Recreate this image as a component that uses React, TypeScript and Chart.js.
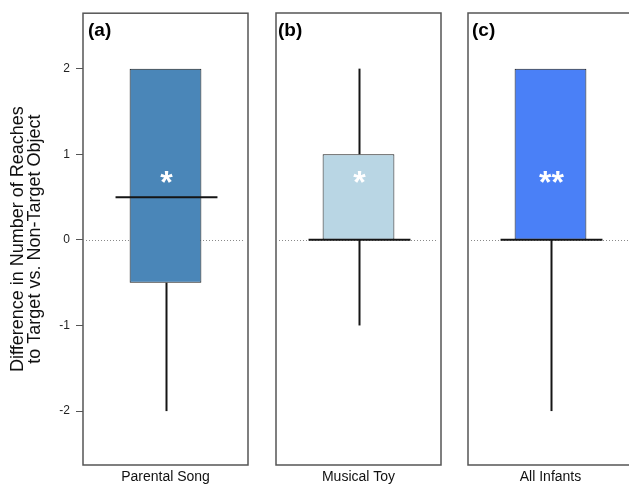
import React, { useEffect, useRef } from "react";
import { Chart, registerables } from "chart.js";

Chart.register(...registerables);

// ---- data ----
const categories = ["Parental Song", "Musical Toy", "All Infants"];
const panelLetters = ["(a)", "(b)", "(c)"];
const q1 = [-0.5, 0, 0];
const q3 = [2, 1, 2];
const medians = [0.5, 0, 0];
const whiskerLow = [-2, -1, -2];
const whiskerHigh = [2, 2, 2];
const significance = ["*", "*", "**"];
const significanceY = [0.7, 0.7, 0.7];
const yTicks = [-2, -1, 0, 1, 2];
const yMin = -2.63;
const yMax = 2.65;
const boxColors = ["#4a86b8", "#b9d6e4", "#4a80f7"];
const yTitle = ["Difference in Number of Reaches", "to Target vs. Non-Target Object"];

const FONT = "'Liberation Sans', Arial, Helvetica, sans-serif";

// ---- layout (style only) ----
const panels = [
  { left: 0, width: 258, padL: 0, padR: 10, showY: true, letterDx: 5 },
  { left: 258, width: 194, padL: 18, padR: 11, showY: false, letterDx: 2 },
  { left: 452, width: 190, padL: 16, padR: 9, showY: false, letterDx: 4 },
];

const boxPlugin = {
  id: "boxExtras",
  beforeDatasetsDraw(chart: any) {
    const { ctx, chartArea: a, scales } = chart;
    const y0 = Math.round(scales.y.getPixelForValue(0)) + 0.5;
    ctx.save();
    ctx.strokeStyle = "#8a8a8a";
    ctx.lineWidth = 1;
    ctx.setLineDash([1, 2]);
    ctx.beginPath();
    ctx.moveTo(a.left + 3, y0);
    ctx.lineTo(a.right - 3, y0);
    ctx.stroke();
    ctx.restore();
  },
  afterDatasetsDraw(chart: any) {
    const i = chart.options.plugins.boxExtras.index;
    const { ctx, scales } = chart;
    const ys = scales.y;
    const el = chart.getDatasetMeta(0).data[0];
    const x = Math.round(el.x) + 0.5;
    const w = el.width;
    ctx.save();
    ctx.strokeStyle = "#151515";
    ctx.lineWidth = 2;
    ctx.lineCap = "butt";
    if (whiskerHigh[i] > q3[i]) {
      ctx.beginPath();
      ctx.moveTo(x, ys.getPixelForValue(q3[i]));
      ctx.lineTo(x, ys.getPixelForValue(whiskerHigh[i]));
      ctx.stroke();
    }
    if (whiskerLow[i] < q1[i]) {
      ctx.beginPath();
      ctx.moveTo(x, ys.getPixelForValue(q1[i]));
      ctx.lineTo(x, ys.getPixelForValue(whiskerLow[i]));
      ctx.stroke();
    }
    const ym = ys.getPixelForValue(medians[i]);
    ctx.beginPath();
    ctx.moveTo(x - w * 0.71, ym);
    ctx.lineTo(x + w * 0.71, ym);
    ctx.stroke();
    // significance stars
    const fs = 32;
    ctx.fillStyle = "#ffffff";
    ctx.font = `bold ${fs}px ${FONT}`;
    ctx.textAlign = "center";
    ctx.textBaseline = "alphabetic";
    ctx.fillText(significance[i], x, ys.getPixelForValue(significanceY[i]) + fs * 0.41);
    ctx.restore();
  },
  afterDraw(chart: any) {
    const i = chart.options.plugins.boxExtras.index;
    const { ctx, chartArea: a } = chart;
    ctx.save();
    ctx.strokeStyle = "#555555";
    ctx.lineWidth = 1.5;
    ctx.strokeRect(a.left, a.top, a.right - a.left, a.bottom - a.top);
    ctx.fillStyle = "#000000";
    ctx.font = `bold 19px ${FONT}`;
    ctx.textAlign = "left";
    ctx.textBaseline = "alphabetic";
    ctx.fillText(panelLetters[i], a.left + panels[i].letterDx, a.top + 23);
    ctx.restore();
  },
};

function Panel({ index }: { index: number }) {
  const ref = useRef<HTMLCanvasElement>(null);
  const p = panels[index];
  useEffect(() => {
    if (!ref.current) return;
    const chart = new Chart(ref.current, {
      type: "bar",
      data: {
        labels: [categories[index]],
        datasets: [
          {
            data: [[q1[index], q3[index]]] as any,
            backgroundColor: boxColors[index],
            borderColor: "#1a1a1a",
            borderWidth: 1,
            borderSkipped: false,
            barPercentage: 0.435,
            categoryPercentage: 1,
          },
        ],
      },
      options: {
        responsive: false,
        animation: false,
        devicePixelRatio: 1,
        events: [],
        layout: { padding: { left: p.padL, right: p.padR, top: 13, bottom: 0 } },
        plugins: {
          legend: { display: false },
          tooltip: { enabled: false },
          boxExtras: { index },
        } as any,
        scales: {
          x: {
            grid: { display: false, drawTicks: false },
            border: { display: false },
            ticks: { color: "#111", font: { family: FONT, size: 14 }, padding: 4 },
            afterFit: (s: any) => {
              s.height = 21;
            },
          },
          y: {
            display: p.showY,
            min: yMin,
            max: yMax,
            grid: { display: true, drawOnChartArea: false, drawTicks: true, tickLength: 7, color: "#555", lineWidth: 1 },
            border: { display: false },
            ticks: { color: "#222", font: { family: FONT, size: 12 }, padding: 6 },
            afterBuildTicks: (s: any) => {
              s.ticks = yTicks.map((v) => ({ value: v }));
            },
            title: {
              display: true,
              text: yTitle,
              color: "#111",
              font: { family: FONT, size: 18, lineHeight: "17px" },
              padding: { top: 10, bottom: 0 },
            },
            afterFit: (s: any) => {
              s.width = p.showY ? 83 : 0;
            },
          },
        },
      },
      plugins: [boxPlugin],
    });
    return () => chart.destroy();
  }, [index]);
  return (
    <div style={{ position: "absolute", left: p.left, top: 0, width: p.width, height: 486 }}>
      <canvas ref={ref} width={p.width} height={486} style={{ display: "block" }} />
    </div>
  );
}

export default function App() {
  return (
    <div
      style={{
        position: "fixed",
        left: 0,
        top: 0,
        width: 629,
        height: 486,
        overflow: "hidden",
        background: "#fff",
      }}
    >
      {categories.map((_, i) => (
        <Panel key={i} index={i} />
      ))}
    </div>
  );
}
